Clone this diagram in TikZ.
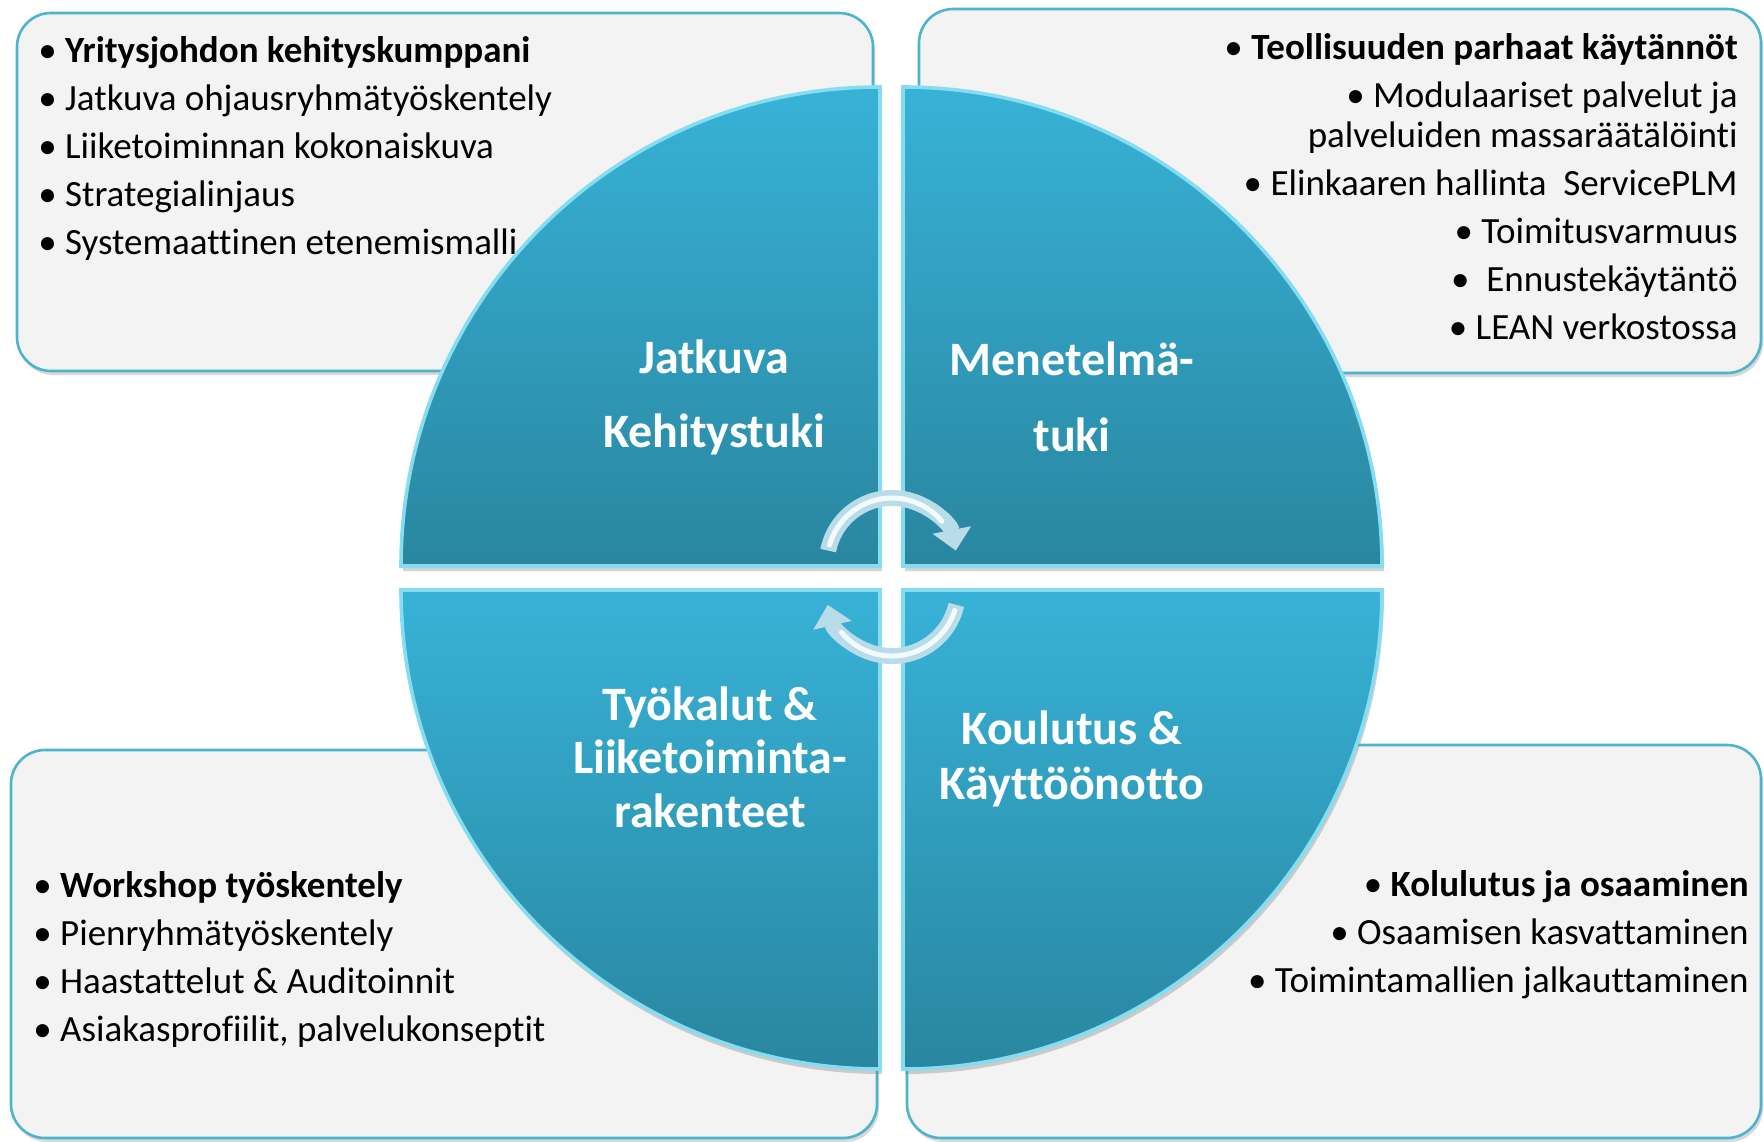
\documentclass[tikz,border=0pt]{standalone}
\usepackage{fontspec}
\setmainfont{Carlito}[Ligatures=NoCommon]
\usetikzlibrary{arrows.meta,shadows}
\definecolor{boxfill}{HTML}{F3F3F3}
\definecolor{boxline}{HTML}{4DB3CF}
\definecolor{quadtop}{HTML}{37B2D7}
\definecolor{quadbot}{HTML}{2986A0}
\definecolor{quadedge}{HTML}{86DDF0}
\definecolor{arrowedge}{HTML}{B9DDE8}
\definecolor{arrowlight}{HTML}{F2FAFC}
\newcommand{\bul}{\textbullet\ }

\begin{document}
\begin{tikzpicture}[x=0.5pt,y=0.5pt,
  infobox/.style={draw=boxline,line width=1.3pt,fill=boxfill,rounded corners=17pt,
    drop shadow={shadow xshift=1pt,shadow yshift=-2pt,opacity=0.3}},
  quadrant/.style={draw=quadedge,line width=1.8pt,top color=quadtop,bottom color=quadbot,
    drop shadow={shadow xshift=1pt,shadow yshift=-2.5pt,opacity=0.35}},
  quadtext/.style={text=white,align=center,font=\bfseries\fontsize{24}{#1}\selectfont},
  listtext/.style={inner sep=0pt,font=\fontsize{18.5}{24}\selectfont},
  cycarrow/.style={draw=arrowedge,line width=8pt,-{Triangle[width=19pt,length=10.5pt]}},
  gloss/.style={draw=arrowlight,line width=2.5pt,line cap=round}]
\useasboundingbox (0,0) rectangle (1764,-1141);

\draw[infobox] (17,-13) rectangle (873,-371);
\draw[infobox] (919,-9) rectangle (1761,-373);
\draw[infobox] (11,-750) rectangle (877,-1138);
\draw[infobox] (907,-745) rectangle (1761,-1138);

\node[listtext,anchor=base west,align=left] (johto) at (38,-254) {\bul\textbf{Yritysjohdon kehityskumppani}\\
  \bul Jatkuva ohjausryhmätyöskentely\\
  \bul Liiketoiminnan kokonaiskuva\\
  \bul Strategialinjaus\\
  \bul Systemaattinen etenemismalli};
\node[listtext,anchor=base east,align=right] (kaytannot) at (1738,-339) {\bul\textbf{Teollisuuden parhaat käytännöt}\\
  \bul Modulaariset palvelut ja\\[-4pt]
  palveluiden massaräätälöinti\\
  \bul Elinkaaren hallinta\ \ ServicePLM\\
  \bul Toimitusvarmuus\\
  \textbullet\ \ Ennustekäytäntö\\
  \bul LEAN verkostossa};
\node[listtext,anchor=base west,align=left] (workshop) at (33,-1041) {\bul\textbf{Workshop työskentely}\\
  \bul Pienryhmätyöskentely\\
  \bul Haastattelut \& Auditoinnit\\
  \bul Asiakasprofiilit, palvelukonseptit};
\node[listtext,anchor=base east,align=right] (osaaminen) at (1749,-992) {\bul\textbf{Kolulutus ja osaaminen}\\
  \bul Osaamisen kasvattaminen\\
  \bul Toimintamallien jalkauttaminen};

\draw[quadrant] (880,-566) -- (401,-566) arc[start angle=180,end angle=90,radius=479] -- cycle;
\draw[quadrant] (903,-566) -- (903,-87) arc[start angle=90,end angle=0,radius=479] -- cycle;
\draw[quadrant] (880,-590) -- (880,-1069) arc[start angle=270,end angle=180,radius=479] -- cycle;
\draw[quadrant] (903,-590) -- (1382,-590) arc[start angle=0,end angle=-90,radius=479] -- cycle;

\node[quadtext=37] (jatkuva) at (714,-397) {Jatkuva\\Kehitystuki};
\node[quadtext=38] (menetelma) at (1072,-397) {Menetelmä-\\tuki};
\node[quadtext=26.75] (tyokalut) at (710,-757) {Työkalut \&\\Liiketoiminta-\\rakenteet};
\node[quadtext=27.5] (koulutus) at (1072,-759) {Koulutus \&\\Käyttöönotto};

\coordinate (topturn) at (892,-563);
\coordinate (bottomturn) at (892,-590);
\draw[cycarrow] ([shift={(169:65)}]topturn) arc[start angle=169,end angle=11,radius=65];
\draw[gloss] ([shift={(164:65)}]topturn) arc[start angle=164,end angle=40,radius=65];
\draw[cycarrow] ([shift={(-13:66)}]bottomturn) arc[start angle=-13,end angle=-167,radius=66];
\draw[gloss] ([shift={(-18:66)}]bottomturn) arc[start angle=-18,end angle=-140,radius=66];
\end{tikzpicture}
\end{document}
